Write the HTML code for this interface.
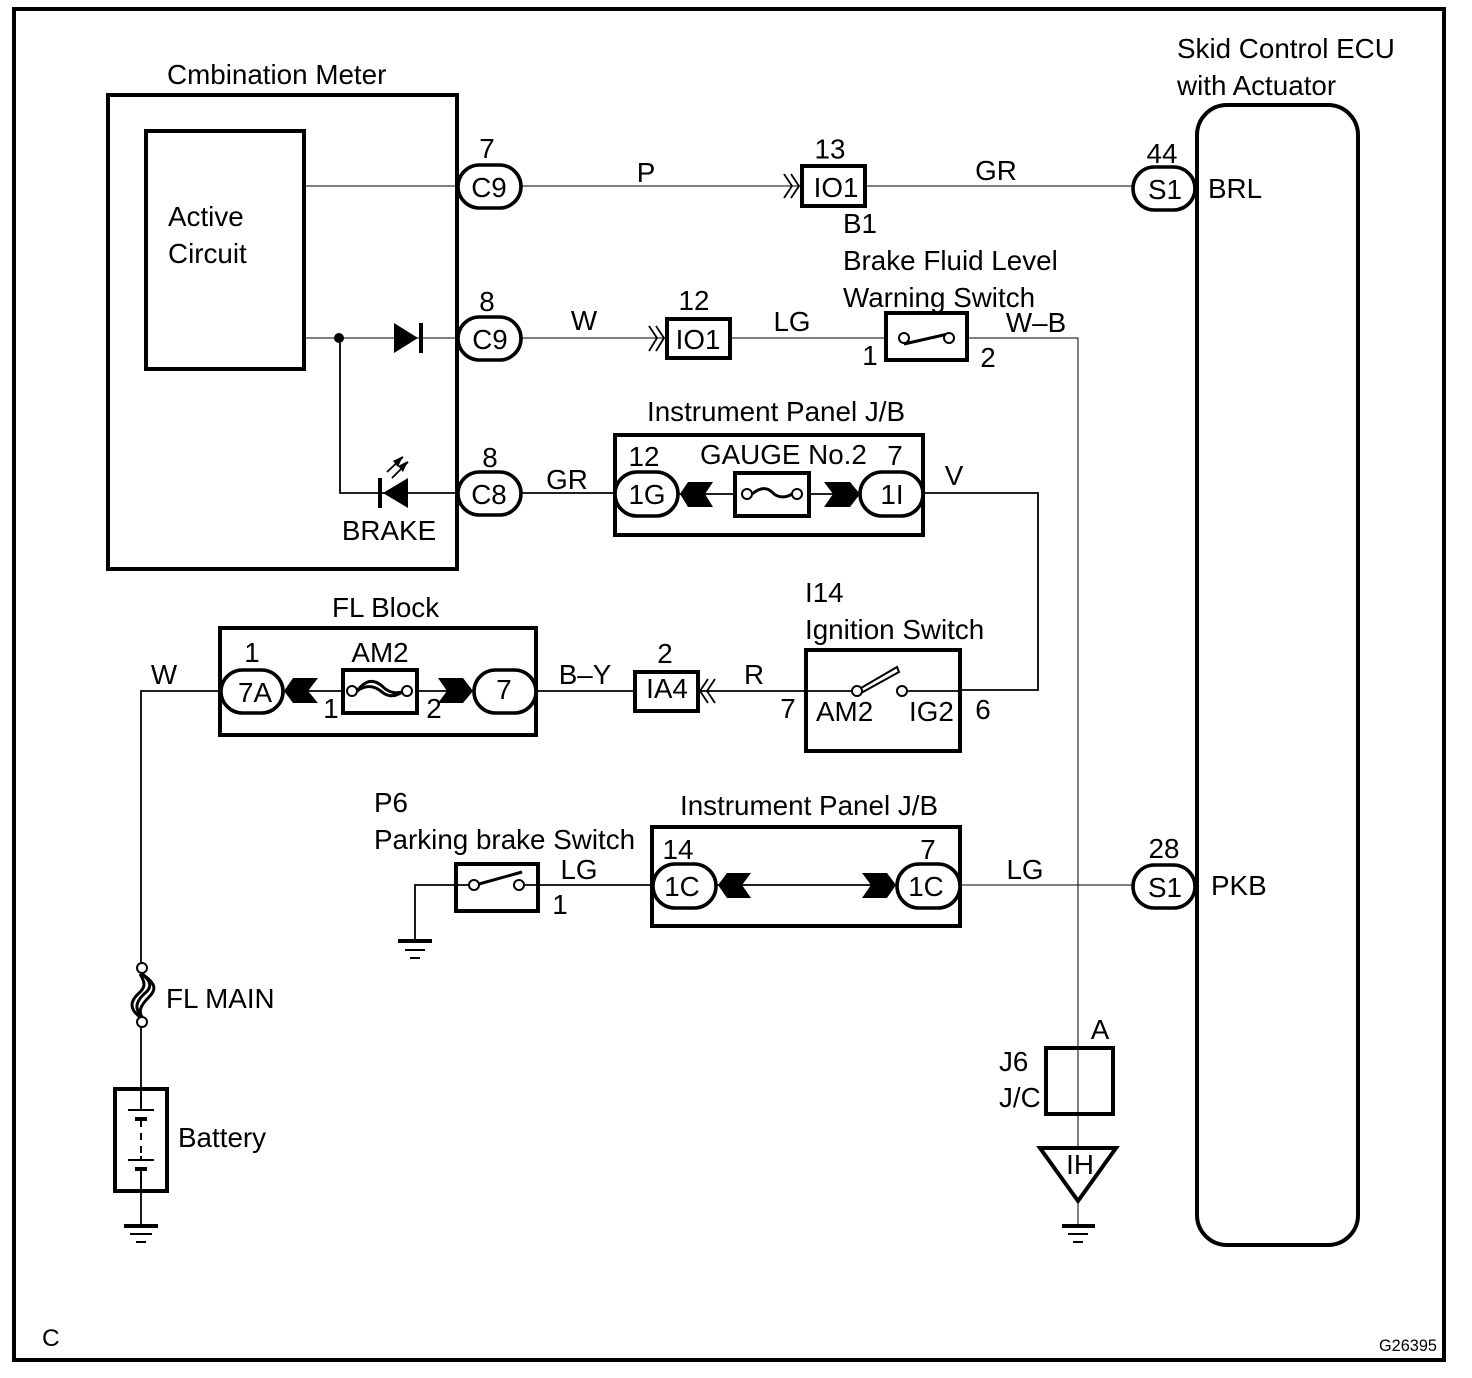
<!DOCTYPE html>
<html><head><meta charset="utf-8"><style>
html,body{margin:0;padding:0;background:#fff}
svg{display:block}
text{font-family:"Liberation Sans",Arial,sans-serif;font-size:27.8px;fill:#000}
.m{text-anchor:middle}
.t{fill:none;stroke:#000;stroke-width:1.8}
.h{fill:none;stroke:#000;stroke-width:1.4;shape-rendering:crispEdges}
.k{fill:none;stroke:#000;stroke-width:4}
.c{fill:#fff;stroke:#000;stroke-width:2}
</style></head><body>
<svg width="1472" height="1378" viewBox="0 0 1472 1378" xmlns="http://www.w3.org/2000/svg">
<rect x="0" y="0" width="1472" height="1378" fill="#fff"/>
<rect x="14" y="9" width="1430" height="1351" class="k"/>

<!-- wires -->
<path class="h" d="M304 186H457M521 186H800M865 186H1132"/>
<path class="h" d="M304 338H457M521 338H666M730 338H885M967 338H1078V1146M1078 1201V1226"/>
<path class="t" d="M340 338V493H457M521 493H614M923 493H1038V690H961"/>
<path class="t" d="M700 691H805M857 691H805M902 691H961M537 691H634"/>
<path class="t" d="M141 968V691H220M141 1022V1088M141 1192V1226"/>
<path class="t" d="M415 941V885H474M519 885H652"/>
<path class="h" d="M961 885H1132"/>
<path class="t" d="M678 494H733M809 494H860M284 691H342M417 691H473M716 885H896"/>

<!-- main boxes -->
<rect x="108" y="95" width="349" height="474" class="k"/>
<rect x="146" y="131" width="158" height="238" class="k"/>
<rect x="1197" y="105" width="161" height="1140" rx="30" class="k"/>
<rect x="615" y="435" width="308" height="100" class="k"/>
<rect x="220" y="628" width="316" height="107" class="k"/>
<rect x="652" y="827" width="308" height="99" class="k"/>
<rect x="806" y="650" width="154" height="101" class="k"/>
<rect x="735" y="473" width="74" height="43" class="k"/>
<rect x="343" y="670" width="74" height="43" class="k"/>
<rect x="802" y="166" width="63" height="40" class="k"/>
<rect x="667" y="319" width="63" height="39" class="k"/>
<rect x="635" y="672" width="63" height="39" class="k"/>
<rect x="886" y="313" width="81" height="47" class="k"/>
<rect x="456" y="864" width="82" height="47" class="k"/>
<rect x="115" y="1089" width="52" height="102" class="k"/>
<rect x="1046" y="1048" width="67" height="66" class="k"/>
<path d="M1040 1148H1116L1078 1201Z" class="k" fill="none"/>

<!-- pills -->
<g fill="#fff" stroke="#000" stroke-width="3.6">
<rect x="458" y="165" width="63" height="43" rx="21.5"/>
<rect x="458" y="317" width="63" height="43" rx="21.5"/>
<rect x="458" y="472" width="63" height="43" rx="21.5"/>
<rect x="1133" y="167" width="62" height="43" rx="21.5"/>
<rect x="1133" y="865" width="62" height="43" rx="21.5"/>
<rect x="615" y="472" width="63" height="44" rx="22"/>
<rect x="860" y="472" width="63" height="44" rx="22"/>
<rect x="221" y="670" width="62" height="43" rx="21.5"/>
<rect x="474" y="670" width="62" height="43" rx="21.5"/>
<rect x="653" y="864" width="63" height="44" rx="22"/>
<rect x="897" y="864" width="63" height="44" rx="22"/>
</g>

<!-- black chevrons -->
<g fill="#000">
<path d="M680 494L688 482H713L705 494L713 507H688Z"/>
<path d="M824 482H850L860 494L850 507H824L833 494Z"/>
<path d="M284 691L293 678H318L308 691L318 703H293Z"/>
<path d="M438 678H463L473 691L463 703H438L447 691Z"/>
<path d="M718 885L727 873H751L742 885L751 898H727Z"/>
<path d="M862 873H887L896 885L887 898H862L871 885Z"/>
<!-- diode -->
<path d="M394 323L418 338L394 353Z"/>
<rect x="419" y="323" width="4" height="30"/>
<!-- LED -->
<path d="M408 478L383 493L408 508Z"/>
<rect x="378" y="478" width="4" height="30"/>
<circle cx="339" cy="338" r="5"/>
</g>
<path d="M387 472L403 457M392 478L408 462" fill="none" stroke="#000" stroke-width="1.8"/>
<path d="M403 456L393 461L398 467ZM408 461L398 466L403 472Z" fill="#000"/>

<!-- double chevrons -->
<g fill="none" stroke="#000" stroke-width="1.8">
<path d="M784 174L792 186L784 198M791 174L799 186L791 198"/>
<path d="M649 326L657 338L649 351M656 326L664 338L656 351"/>
<path d="M715 679L707 691L715 703M708 679L700 691L708 703"/>
</g>

<!-- fuses -->
<path d="M752 494C762 486 768 488 773 493C778 498 786 498 792 494" fill="none" stroke="#000" stroke-width="3"/>
<circle cx="747" cy="494" r="5" class="c"/><circle cx="797" cy="494" r="5" class="c"/>
<path d="M357 691C367 678 375 680 382 686C388 692 395 694 402 692M357 691C367 684 375 686 382 692C388 697 395 697 402 692" fill="none" stroke="#000" stroke-width="3"/>
<circle cx="352" cy="691" r="5" class="c"/><circle cx="407" cy="691" r="5" class="c"/>

<!-- FL main fuse -->
<g fill="none" stroke="#000" stroke-width="3">
<path d="M142 974C157 984 156 990 149 997C141 1005 138 1011 142 1017"/>
<path d="M142 974C152 982 152 988 144 994C136 1002 134 1008 142 1017"/>
<path d="M140 974C145 982 146 987 139 993C130 1001 129 1009 140 1017"/>
</g>
<circle cx="142" cy="968" r="5" class="c"/><circle cx="142" cy="1022" r="5" class="c"/>

<!-- switches -->
<path d="M904 344L948 334" stroke="#000" stroke-width="3"/>
<circle cx="904" cy="338" r="5" class="c"/><circle cx="949" cy="338" r="5" class="c"/>
<path d="M861 688L897 667L899 672L861 693Z" fill="#fff" stroke="#000" stroke-width="2"/>
<circle cx="857" cy="691" r="5" class="c"/><circle cx="902" cy="691" r="5" class="c"/>
<path d="M479 884L522 872" stroke="#000" stroke-width="3"/>
<circle cx="474" cy="885" r="5" class="c"/><circle cx="519" cy="885" r="5" class="c"/>

<!-- battery -->
<path d="M128 1110H154M128 1160H154" stroke="#000" stroke-width="2"/>
<path d="M135 1119H147M135 1169H147" stroke="#000" stroke-width="4"/>
<path d="M141 1088V1110M141 1119V1127M141 1133V1140M141 1146V1153M141 1156V1160M141 1169V1192" stroke="#000" stroke-width="2"/>

<!-- grounds -->
<path d="M124 1226H158M398 941H432M1062 1226H1095" stroke="#000" stroke-width="4"/>
<path d="M130 1234H152M136 1242H146M405 950H425M410 958H420M1068 1234H1088M1073 1242H1083" stroke="#000" stroke-width="2"/>

<!-- text -->
<text x="1177" y="58">Skid Control ECU</text>
<text x="1177" y="95">with Actuator</text>
<text x="167" y="84">Cmbination Meter</text>
<text x="168" y="226">Active</text>
<text x="168" y="263">Circuit</text>
<text x="487" y="158" class="m">7</text>
<text x="489" y="197" class="m">C9</text>
<text x="646" y="182" class="m">P</text>
<text x="830" y="158.5" class="m">13</text>
<text x="836" y="197" class="m">IO1</text>
<text x="996" y="180" class="m">GR</text>
<text x="1162" y="163" class="m">44</text>
<text x="1165" y="199" class="m">S1</text>
<text x="1208" y="198">BRL</text>
<text x="843" y="233">B1</text>
<text x="843" y="270">Brake Fluid Level</text>
<text x="843" y="307">Warning Switch</text>
<text x="487" y="311" class="m">8</text>
<text x="490" y="349" class="m">C9</text>
<text x="584" y="330" class="m">W</text>
<text x="694" y="310" class="m">12</text>
<text x="698" y="349" class="m">IO1</text>
<text x="792" y="331" class="m">LG</text>
<text x="870" y="365" class="m">1</text>
<text x="988" y="367" class="m">2</text>
<text x="1036" y="332" class="m">W–B</text>
<text x="647" y="421">Instrument Panel J/B</text>
<text x="490" y="467" class="m">8</text>
<text x="489" y="504" class="m">C8</text>
<text x="567" y="489" class="m">GR</text>
<text x="644" y="466" class="m">12</text>
<text x="647" y="504" class="m">1G</text>
<text x="700" y="464">GAUGE No.2</text>
<text x="895" y="465" class="m">7</text>
<text x="892" y="504" class="m">1I</text>
<text x="954" y="485" class="m">V</text>
<text x="389" y="540" class="m">BRAKE</text>
<text x="805" y="602">I14</text>
<text x="805" y="639">Ignition Switch</text>
<text x="332" y="617">FL Block</text>
<text x="252" y="662" class="m">1</text>
<text x="380" y="662" class="m">AM2</text>
<text x="255" y="702" class="m">7A</text>
<text x="331" y="718" class="m">1</text>
<text x="434" y="718" class="m">2</text>
<text x="504" y="699" class="m">7</text>
<text x="585" y="684" class="m">B–Y</text>
<text x="665" y="663" class="m">2</text>
<text x="667" y="698" class="m">IA4</text>
<text x="754" y="684" class="m">R</text>
<text x="788" y="718" class="m">7</text>
<text x="816" y="721">AM2</text>
<text x="909" y="721">IG2</text>
<text x="983" y="719" class="m">6</text>
<text x="164" y="684" class="m">W</text>
<text x="374" y="812">P6</text>
<text x="374" y="849">Parking brake Switch</text>
<text x="680" y="815">Instrument Panel J/B</text>
<text x="579" y="879" class="m">LG</text>
<text x="560" y="914" class="m">1</text>
<text x="678" y="859" class="m">14</text>
<text x="682" y="896" class="m">1C</text>
<text x="928" y="859" class="m">7</text>
<text x="926" y="896" class="m">1C</text>
<text x="1025" y="879" class="m">LG</text>
<text x="1164" y="858" class="m">28</text>
<text x="1165" y="897" class="m">S1</text>
<text x="1211" y="895">PKB</text>
<text x="166" y="1008">FL MAIN</text>
<text x="178" y="1147">Battery</text>
<text x="1100" y="1039" class="m">A</text>
<text x="999" y="1071">J6</text>
<text x="999" y="1107">J/C</text>
<text x="1080" y="1174" class="m">IH</text>
<text x="42" y="1346" style="font-size:24.5px">C</text>
<text x="1379" y="1351" style="font-size:16.3px">G26395</text>
</svg>
</body></html>
